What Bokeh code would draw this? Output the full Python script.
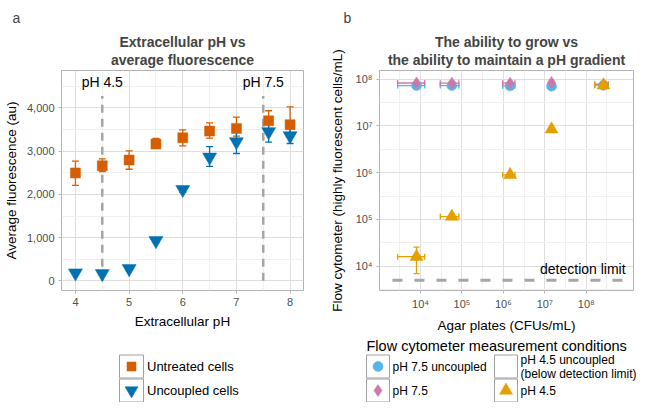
from bokeh.plotting import figure
from bokeh.models import (Range1d, FixedTicker, NumeralTickFormatter, Whisker, TeeHead,
                          ColumnDataSource, Title, CustomJSTickFormatter, LabelSet)
from bokeh.layouts import row, column
from bokeh.embed import file_html
from bokeh.resources import INLINE
from bokeh.core.properties import value

FONT = "Liberation Sans"
GRID_MAJOR = "#dedede"
GRID_MINOR = "#f0f0f0"
BORDER = "#b3b3b3"
TICK_TXT = "#4d4d4d"
DASH_C = "#a6a6a6"
KEY_BORDER = "#a0a0a0"

# ---------------- Panel a data ----------------
ph = [4, 4.5, 5, 5.5, 6, 6.5, 7, 7.6, 8]
untreated = [2496, 2663, 2795, 3165, 3309, 3464, 3527, 3701, 3612]
untreated_lo = [2210, 2530, 2582, 3063, 3123, 3304, 3350, 3480, 3330]
untreated_hi = [2768, 2820, 3006, 3294, 3494, 3654, 3788, 3935, 4025]
uncoupled = [183, 167, 283, 930, 2113, 2862, 3217, 3451, 3355]
uncoupled_lo = [150, 140, 250, 900, 2050, 2649, 2946, 3207, 3177]
uncoupled_hi = [210, 195, 310, 960, 2170, 3103, 3440, 3700, 3530]
ref_ph = [4.5, 7.5]
ref_ph_labels = ["pH 4.5", "pH 7.5"]
ref_line_top = 4275
ref_label_y = 4605
a_x_ticks = [4, 5, 6, 7, 8]
a_x_minor = [4.5, 5.5, 6.5, 7.5]
a_y_ticks = [0, 1000, 2000, 3000, 4000]
a_y_minor = [500, 1500, 2500, 3500, 4500]
a_title_lines = ["Extracellular pH vs", "average fluorescence"]
a_legend_labels = ["Untreated cells", "Uncoupled cells"]
a_colors = ["#D55E00", "#0072B2"]
a_markers = ["square", "inverted_triangle"]
a_marker_sizes = [10, 14]

# ---------------- Panel b data ----------------
plates = [8.0e3, 5.7e4, 1.45e6, 1.45e7, 2.6e8]
plates_lo = [2.8e3, 3.0e4, 9.6e5, 1.3e7, 1.6e8]
plates_hi = [1.26e4, 8.4e4, 1.9e6, 1.6e7, 3.4e8]
ph75_unc = [7.3e7, 7.3e7, 7.2e7, 7.1e7, 7.4e7]
ph75_unc_lo = [6.9e7, 6.9e7, 6.8e7, 6.8e7, 7.0e7]
ph75_unc_hi = [7.7e7, 7.7e7, 7.6e7, 7.4e7, 7.8e7]
ph75 = [8.3e7, 8.2e7, 8.2e7, 8.5e7, 7.8e7]
ph75_lo = [7.9e7, 7.8e7, 7.8e7, 8.1e7, 7.4e7]
ph75_hi = [8.7e7, 8.6e7, 8.6e7, 8.9e7, 8.2e7]
ph45 = [1.6e4, 1.15e5, 9.0e5, 8.5e6, 7.4e7]
ph45_lo = [6.9e3, 1.0e5, 8.3e5, 8.0e6, 7.0e7]
ph45_hi = [2.56e4, 1.3e5, 9.7e5, 9.0e6, 7.8e7]
detection_limit = 5000
detection_x = [2.1e3, 7.6e8]
detection_label = "detection limit"
detection_label_pos = (8.9e8, 8.7e3)
b_ticks = [1e4, 1e5, 1e6, 1e7, 1e8]
b_x_minor = [10 ** 3.5, 10 ** 4.5, 10 ** 5.5, 10 ** 6.5, 10 ** 7.5, 10 ** 8.5]
b_y_minor = [10 ** 3.5, 10 ** 4.5, 10 ** 5.5, 10 ** 6.5, 10 ** 7.5]
b_title_lines = ["The ability to grow vs", "the ability to maintain a pH gradient"]
b_legend_title = "Flow cytometer measurement conditions"
b_legend_labels = ["pH 7.5 uncoupled", "pH 7.5", "pH 4.5 uncoupled\n(below detection limit)", "pH 4.5"]
b_legend_markers = ["circle", "diamond", None, "triangle"]
b_legend_colors = ["#56B4E9", "#CC79A7", None, "#E69F00"]
b_legend_sizes = [10, 12, 0, 13]
b_colors = ["#56B4E9", "#CC79A7", "#E69F00"]
b_markers = ["circle", "diamond", "triangle"]


def style(p):
    p.outline_line_color = BORDER
    p.outline_line_width = 1
    p.background_fill_color = "white"
    p.border_fill_color = "white"
    for ax in p.axis:
        ax.axis_line_color = None
        ax.major_tick_line_color = BORDER
        ax.major_tick_out = 3
        ax.major_tick_in = 0
        ax.minor_tick_line_color = None
        ax.major_label_text_font = FONT
        ax.major_label_text_font_size = "11px"
        ax.major_label_text_color = TICK_TXT
        ax.major_label_standoff = 3
        ax.axis_label_text_font = FONT
        ax.axis_label_text_font_size = "13.5px"
        ax.axis_label_text_font_style = "normal"
        ax.axis_label_text_color = "black"
        ax.axis_label_standoff = 5
    for g in p.grid:
        g.grid_line_color = GRID_MAJOR
        g.grid_line_width = 1
        g.minor_grid_line_color = GRID_MINOR
        g.minor_grid_line_width = 1


def add_titles(p, lines, letter, letter_offset):
    p.add_layout(Title(text=lines[1], align="center", text_font=FONT, text_font_size="14px",
                       text_font_style="bold", standoff=5), "above")
    p.add_layout(Title(text=lines[0], align="center", text_font=FONT, text_font_size="14px",
                       text_font_style="bold", standoff=-4), "above")
    p.add_layout(Title(text=letter, align="left", offset=letter_offset, text_font=FONT,
                       text_font_size="14px", text_font_style="normal", standoff=15), "above")


# ---------------- Panel a ----------------
pa = figure(width=322, height=335, output_backend="svg", toolbar_location=None,
            x_range=Range1d(3.74, 8.25), y_range=Range1d(-223, 4866),
            min_border_left=54, min_border_right=19, min_border_top=68, min_border_bottom=43,
            x_axis_label="Extracellular pH", y_axis_label="Average fluorescence (au)")
pa.xaxis.ticker = FixedTicker(ticks=a_x_ticks, minor_ticks=a_x_minor)
pa.yaxis.ticker = FixedTicker(ticks=a_y_ticks, minor_ticks=a_y_minor)
pa.yaxis.formatter = NumeralTickFormatter(format="0,0")
style(pa)
add_titles(pa, a_title_lines, "a", -49)

pa.segment(x0=ref_ph, y0=[0] * len(ref_ph), x1=ref_ph, y1=[ref_line_top] * len(ref_ph),
           line_color=DASH_C, line_width=2.5, line_dash="8 6")
pa.text(x=ref_ph, y=[ref_label_y] * len(ref_ph), text=ref_ph_labels, text_align="center",
        text_baseline="middle", text_font=value(FONT), text_font_size="14px", text_color="black")

src_ut = ColumnDataSource(dict(x=ph, y=untreated, lo=untreated_lo, hi=untreated_hi))
src_uc = ColumnDataSource(dict(x=ph, y=uncoupled, lo=uncoupled_lo, hi=uncoupled_hi))
for src, col in ((src_ut, a_colors[0]), (src_uc, a_colors[1])):
    w = Whisker(base="x", lower="lo", upper="hi", source=src, line_color=col, line_width=1.3,
                level="underlay",
                upper_head=TeeHead(size=7, line_color=col, line_width=1.3),
                lower_head=TeeHead(size=7, line_color=col, line_width=1.3))
    pa.add_layout(w)
pa.scatter("x", "y", source=src_ut, marker=a_markers[0], size=a_marker_sizes[0],
           fill_color=a_colors[0], line_color=a_colors[0], line_alpha=0.5)
pa.scatter("x", "y", source=src_uc, marker=a_markers[1], size=a_marker_sizes[1],
           fill_color=a_colors[1], line_color=a_colors[1], line_alpha=0.5)

# ---------------- Panel b ----------------
sup_code = """
const sup = {"0":"\u2070","1":"\u00b9","2":"\u00b2","3":"\u00b3","4":"\u2074","5":"\u2075",
             "6":"\u2076","7":"\u2077","8":"\u2078","9":"\u2079","-":"\u207b"};
const e = Math.round(Math.log10(tick));
return "10" + String(e).split("").map(c => sup[c]).join("");
"""
pb = figure(width=319, height=335, output_backend="svg", toolbar_location=None,
            x_axis_type="log", y_axis_type="log",
            x_range=Range1d(10 ** 3.01, 10 ** 9.14), y_range=Range1d(10 ** 3.48, 10 ** 8.186),
            min_border_left=57, min_border_right=8, min_border_top=68, min_border_bottom=43,
            x_axis_label="Agar plates (CFUs/mL)",
            y_axis_label="Flow cytometer (highly fluorescent cells/mL)")
pb.xaxis.ticker = FixedTicker(ticks=b_ticks, minor_ticks=b_x_minor)
pb.yaxis.ticker = FixedTicker(ticks=b_ticks, minor_ticks=b_y_minor)
pb.xaxis.formatter = CustomJSTickFormatter(code=sup_code)
pb.yaxis.formatter = CustomJSTickFormatter(code=sup_code)
style(pb)
pb.yaxis.axis_label_standoff = 8
add_titles(pb, b_title_lines, "b", -36)

pb.line(x=detection_x, y=[detection_limit] * len(detection_x), line_color=DASH_C, line_width=3,
        line_dash="10 12")
pb.text(x=[detection_label_pos[0]], y=[detection_label_pos[1]], text=[detection_label],
        text_align="right", text_baseline="middle", text_font=value(FONT),
        text_font_size="14px", text_color="black")

series_b = [
    (ph75_unc, ph75_unc_lo, ph75_unc_hi, b_colors[0], b_markers[0], 10),
    (ph75, ph75_lo, ph75_hi, b_colors[1], b_markers[1], 12),
    (ph45, ph45_lo, ph45_hi, b_colors[2], b_markers[2], 13),
]
for yv, ylo, yhi, col, mk, sz in series_b:
    src = ColumnDataSource(dict(x=plates, xlo=plates_lo, xhi=plates_hi, y=yv, ylo=ylo, yhi=yhi))
    for base, lo, hi, dim in (("x", "ylo", "yhi", "height"), ("y", "xlo", "xhi", "width")):
        pb.add_layout(Whisker(base=base, lower=lo, upper=hi, dimension=dim, source=src,
                              line_color=col, line_width=1.3, level="underlay",
                              upper_head=TeeHead(size=6, line_color=col, line_width=1.3),
                              lower_head=TeeHead(size=6, line_color=col, line_width=1.3)))
for yv, ylo, yhi, col, mk, sz in series_b:
    pb.scatter(x=plates, y=yv, marker=mk, size=sz, fill_color=col, line_color=col, line_alpha=0.5)

# ---------------- Legends (one strip under both panels; units = pixels) ----------------
LEG_W, LEG_H = 641, 67
BL, BR = 54, 0
lg = figure(width=LEG_W, height=LEG_H, output_backend="svg", toolbar_location=None,
            x_range=Range1d(BL, LEG_W - BR), y_range=Range1d(LEG_H, 0),
            x_axis_type=None, y_axis_type=None,
            min_border_left=BL, min_border_right=BR, min_border_top=0, min_border_bottom=0)
lg.outline_line_color = None
lg.grid.visible = False
lg.background_fill_color = "white"
lg.border_fill_color = "white"

KEY = 23
row_cy = [31, 55]
txt_x, txt_y, txt_t, txt_s = [], [], [], []

a_key_cx = 131
for i, lab in enumerate(a_legend_labels):
    lg.rect(x=[a_key_cx], y=[row_cy[i]], width=KEY + 1, height=KEY, fill_color="white",
            line_color=KEY_BORDER, line_width=1)
    lg.scatter(x=[a_key_cx], y=[row_cy[i]], marker=a_markers[i], size=a_marker_sizes[i] - 1,
               fill_color=a_colors[i], line_color=a_colors[i], line_alpha=0.5)
    txt_x.append(a_key_cx + KEY / 2 + 4)
    txt_y.append(row_cy[i])
    txt_t.append(lab)
    txt_s.append("13px")

b_title_x, b_title_y = 366, 10
b_col_cx = [377.5, 505.5]
for i, lab in enumerate(b_legend_labels):
    cx = b_col_cx[i // 2]
    cy = row_cy[i % 2]
    lg.rect(x=[cx], y=[cy], width=KEY, height=KEY, fill_color="white",
            line_color=KEY_BORDER, line_width=1)
    if b_legend_markers[i] is not None:
        lg.scatter(x=[cx], y=[cy], marker=b_legend_markers[i], size=b_legend_sizes[i],
                   fill_color=b_legend_colors[i], line_color=b_legend_colors[i],
                   line_alpha=0.5)
    txt_x.append(cx + KEY / 2 + 3)
    txt_y.append(cy)
    txt_t.append(lab)
    txt_s.append("12px")

leg_src = ColumnDataSource(dict(x=txt_x, y=txt_y, text=txt_t, size=txt_s))
lg.add_layout(LabelSet(x="x", y="y", text="text", source=leg_src, text_align="left",
                       text_baseline="middle", text_font=value(FONT), text_font_size="size",
                       text_color="black", text_line_height=1.0))
title_src = ColumnDataSource(dict(x=[b_title_x], y=[b_title_y], text=[b_legend_title]))
lg.add_layout(LabelSet(x="x", y="y", text="text", source=title_src, text_align="left",
                       text_baseline="middle", text_font=value(FONT), text_font_size="14.5px",
                       text_color="black"))

layout = column(row(pa, pb), lg)
open("out.html", "w").write(file_html(layout, INLINE))
